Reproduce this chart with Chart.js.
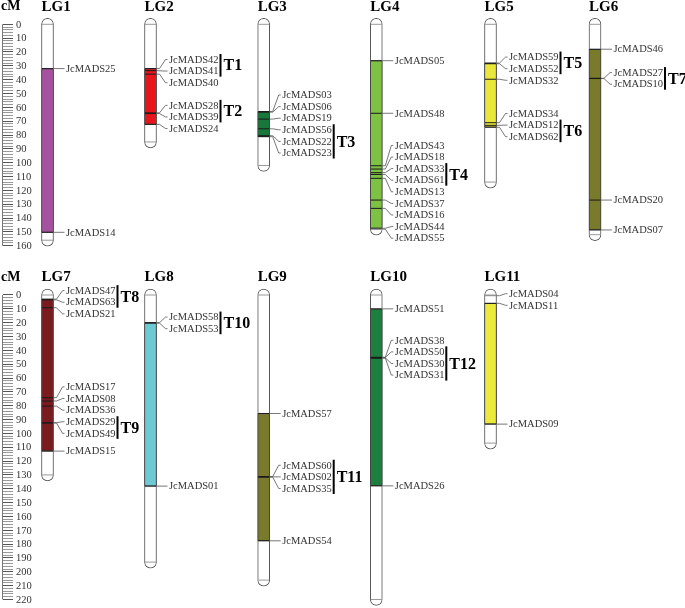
<!DOCTYPE html>
<html>
<head>
<meta charset="utf-8">
<script src="https://cdn.jsdelivr.net/npm/chart.js@4.4.1/dist/chart.umd.min.js"></script>
<style>
  html, body { margin: 0; padding: 0; background: #fff; }
  #wrap { position: relative; width: 685px; height: 608px; }
  canvas { position: absolute; left: 0; }
  #top { top: 0; }
  #bottom { top: 268px; }
</style>
</head>
<body>
<div id="wrap">
  <canvas id="top" width="685" height="268"></canvas>
  <canvas id="bottom" width="685" height="340"></canvas>
</div>
<script>
// linkage groups and their length in cM
const groups = ['LG1', 'LG2', 'LG3', 'LG4', 'LG5', 'LG6', 'LG7', 'LG8', 'LG9', 'LG10', 'LG11'];
const lengths = [156, 85, 102, 148, 114, 152, 130, 193, 206, 220, 107];

// coloured block on each group
const segStart = [32, 32, 63, 26.3, 28, 18, 3, 20, 85.6, 10, 6];
const segEnd = [150.3, 72.3, 81.2, 147.4, 74.4, 148.6, 112.8, 138.1, 177.6, 137.9, 93.3];

// genes on each group (cM)
const geneNames = [
    ['JcMADS25', 'JcMADS14'],
    ['JcMADS42', 'JcMADS41', 'JcMADS40', 'JcMADS28', 'JcMADS39', 'JcMADS24'],
    ['JcMADS03', 'JcMADS06', 'JcMADS19', 'JcMADS56', 'JcMADS22', 'JcMADS23'],
    ['JcMADS05', 'JcMADS48', 'JcMADS43', 'JcMADS18', 'JcMADS33', 'JcMADS61', 'JcMADS13', 'JcMADS37', 'JcMADS16', 'JcMADS44', 'JcMADS55'],
    ['JcMADS59', 'JcMADS52', 'JcMADS32', 'JcMADS34', 'JcMADS12', 'JcMADS62'],
    ['JcMADS46', 'JcMADS27', 'JcMADS10', 'JcMADS20', 'JcMADS07'],
    ['JcMADS47', 'JcMADS63', 'JcMADS21', 'JcMADS17', 'JcMADS08', 'JcMADS36', 'JcMADS29', 'JcMADS49', 'JcMADS15'],
    ['JcMADS58', 'JcMADS53', 'JcMADS01'],
    ['JcMADS57', 'JcMADS60', 'JcMADS02', 'JcMADS35', 'JcMADS54'],
    ['JcMADS51', 'JcMADS38', 'JcMADS50', 'JcMADS30', 'JcMADS31', 'JcMADS26'],
    ['JcMADS04', 'JcMADS11', 'JcMADS09']
];
const genePos = [
    [32, 150.3],
    [32, 33.5, 36, 64, 64.5, 72.3],
    [63, 63.5, 68.5, 75.5, 80.5, 81.2],
    [26.3, 64.3, 102.2, 104.6, 107.2, 108.5, 111.3, 127, 133, 147.4, 148],
    [28, 28.5, 39.7, 71.1, 73, 74.4],
    [18, 39, 39.2, 127, 148.6],
    [3, 3.5, 9.2, 74.2, 76.6, 80.3, 92.3, 92.5, 112.8],
    [20, 20.3, 138.1],
    [85.6, 131.2, 131.4, 131.6, 177.6],
    [10, 45, 45.2, 45.4, 45.6, 137.9],
    [0.5, 6, 93.3]
];

// tandem duplications
const tandemNames = ['T1', 'T2', 'T3', 'T4', 'T5', 'T6', 'T7', 'T8', 'T9', 'T10', 'T11', 'T12'];
const tandemGenes = [
    ['JcMADS42', 'JcMADS41'], ['JcMADS28', 'JcMADS39'], ['JcMADS56', 'JcMADS22', 'JcMADS23'],
    ['JcMADS33', 'JcMADS61'], ['JcMADS59', 'JcMADS52'], ['JcMADS12', 'JcMADS62'],
    ['JcMADS27', 'JcMADS10'], ['JcMADS47', 'JcMADS63'], ['JcMADS29', 'JcMADS49'],
    ['JcMADS58', 'JcMADS53'], ['JcMADS60', 'JcMADS02', 'JcMADS35'], ['JcMADS50', 'JcMADS30', 'JcMADS31']
];

// ruler ends for the two rows
const rulerMax = [160, 220];

// layout / style
const segColors = ['#a6519f', '#e8151c', '#18783b', '#7dc242', '#e9e83a', '#7a7a2c',
                   '#7a1b1f', '#6dc9d4', '#7a7a2c', '#1c7f3e', '#ebe93b'];
const colX = [47.5, 150.5, 263.7, 376.3, 490.5, 595];
const pxPerCM = 1.384;
const capCM = 6 / pxPerCM;
const serif = "'Liberation Serif', 'Times New Roman', serif";
const labelGap = 11.6;

function spreadLabels(targets) {
    let clusters = targets.map(t => ({ sum: t, n: 1 }));
    const start = c => c.sum / c.n - (c.n - 1) * labelGap / 2;
    let merged = true;
    while (merged) {
        merged = false;
        for (let i = 1; i < clusters.length; i++) {
            const a = clusters[i - 1], b = clusters[i];
            if (start(a) + a.n * labelGap > start(b)) {
                clusters.splice(i - 1, 2, { sum: a.sum + b.sum, n: a.n + b.n });
                merged = true;
                break;
            }
        }
    }
    const out = [];
    clusters.forEach(c => { for (let j = 0; j < c.n; j++) out.push(start(c) + j * labelGap); });
    return out;
}

const mapLabels = {
    id: 'mapLabels',
    afterDraw(chart, args, opts) {
        const { ctx, scales: { x, y } } = chart;
        const idx = opts.idx;
        const y0 = y.getPixelForValue(0);
        ctx.save();

        // cM header, ruler spine and ruler numbers
        ctx.fillStyle = '#000';
        ctx.font = 'bold 14px ' + serif;
        ctx.textBaseline = 'middle';
        ctx.textAlign = 'left';
        ctx.fillText('cM', 1, y0 - 17.6);
        ctx.strokeStyle = '#777';
        ctx.lineWidth = 1;
        ctx.beginPath();
        ctx.moveTo(2.5, y0);
        ctx.lineTo(2.5, y.getPixelForValue(opts.rMax));
        ctx.stroke();
        ctx.fillStyle = '#333';
        ctx.font = '10.5px ' + serif;
        y.ticks.forEach(t => {
            if (t.value % 10 === 0) ctx.fillText(String(t.value), 16, y.getPixelForValue(t.value) + 0.5);
        });

        const labelY = {};
        idx.forEach((g, k) => {
            const cx = x.getPixelForValue(colX[k]);
            ctx.fillStyle = '#000';
            ctx.font = 'bold 15px ' + serif;
            ctx.fillText(groups[g], cx - 6, y0 - 17.6);

            const order = genePos[g].map((p, i) => i).sort((a, b) => genePos[g][a] - genePos[g][b]);
            const targets = order.map(i => y.getPixelForValue(genePos[g][i]));
            const placed = spreadLabels(targets);
            ctx.font = '10.5px ' + serif;
            ctx.fillStyle = '#333';
            ctx.strokeStyle = '#555';
            ctx.lineWidth = 0.8;
            order.forEach((i, j) => {
                const my = targets[j], ly = placed[j];
                ctx.beginPath();
                ctx.moveTo(cx + 6, my);
                if (Math.abs(my - ly) < 0.5) {
                    ctx.lineTo(cx + 17, ly);
                } else {
                    ctx.lineTo(cx + 9, my);
                    ctx.lineTo(cx + 15, ly);
                    ctx.lineTo(cx + 17, ly);
                }
                ctx.stroke();
                ctx.fillText(geneNames[g][i], cx + 18.5, ly + 0.5);
                labelY[geneNames[g][i]] = { y: ly, cx: cx };
            });
        });

        // tandem brackets
        tandemGenes.forEach((genes, t) => {
            const hits = genes.map(n => labelY[n]).filter(Boolean);
            if (!hits.length) return;
            const ys = hits.map(h => h.y);
            const top = Math.min(...ys) - 5.5, bot = Math.max(...ys) + 5.5;
            const bx = hits[0].cx + 70;
            ctx.fillStyle = '#000';
            ctx.fillRect(bx - 1, top, 2, bot - top);
            ctx.font = 'bold 16px ' + serif;
            ctx.fillText(tandemNames[t], bx + 3, (top + bot) / 2 + 1);
        });
        ctx.restore();
    }
};

function drawPanel(canvasId, idx, rMax, zeroPx) {
    const canvas = document.getElementById(canvasId);

    const markers = [];
    const markerColors = [];
    idx.forEach((g, k) => {
        genePos[g].forEach(p => {
            markers.push({ x: colX[k], y: p });
            markerColors.push(p >= segStart[g] && p <= segEnd[g] ? '#1a1a1a' : '#888');
        });
    });

    const chart = new Chart(canvas, {
        type: 'bar',
        data: {
            datasets: [{
                label: 'chromosome',
                data: idx.map((g, k) => ({ x: colX[k], y: [-capCM, lengths[g] + capCM] })),
                backgroundColor: '#fff',
                borderColor: '#555',
                borderWidth: 1,
                borderRadius: 6,
                borderSkipped: false,
                barThickness: 12,
                grouped: false,
                clip: false,
                order: 4
            }, {
                label: 'block',
                data: idx.map((g, k) => ({ x: colX[k], y: [segStart[g], segEnd[g]] })),
                backgroundColor: idx.map(g => segColors[g]),
                borderColor: '#444',
                borderWidth: 1,
                borderSkipped: false,
                barThickness: 12,
                grouped: false,
                clip: false,
                order: 3
            }, {
                type: 'scatter',
                label: 'ends',
                data: idx.flatMap((g, k) => [{ x: colX[k], y: 0 }, { x: colX[k], y: lengths[g] }]),
                pointStyle: 'line',
                pointRadius: 5.5,
                pointBorderColor: '#999',
                borderColor: '#999',
                pointBorderWidth: 1,
                clip: false,
                order: 2
            }, {
                type: 'scatter',
                label: 'genes',
                data: markers,
                pointStyle: 'line',
                pointRadius: 5.5,
                pointBorderColor: markerColors,
                borderColor: markerColors,
                pointBorderWidth: 1,
                clip: false,
                order: 1
            }]
        },
        options: {
            responsive: false,
            animation: false,
            devicePixelRatio: 1,
            events: [],
            layout: { padding: 0 },
            scales: {
                x: { type: 'linear', offset: false, min: 0, max: 685, display: false },
                y: {
                    type: 'linear',
                    reverse: true,
                    min: -zeroPx / pxPerCM,
                    max: (canvas.height - zeroPx) / pxPerCM,
                    position: 'left',
                    afterBuildTicks: s => { s.ticks = s.ticks.filter(t => t.value >= 0 && t.value <= rMax); },
                    afterFit: s => { s.width = 13; s.paddingTop = 0; s.paddingBottom = 0; },
                    border: { display: false },
                    grid: {
                        drawOnChartArea: false,
                        tickLength: 10,
                        tickColor: c => (c.tick && c.tick.value % 10 === 0) ? '#555' : '#999'
                    },
                    ticks: {
                        stepSize: 2,
                        includeBounds: false,
                        autoSkip: false,
                        display: false
                    }
                }
            },
            plugins: {
                legend: { display: false },
                tooltip: { enabled: false },
                mapLabels: { idx: idx, rMax: rMax }
            }
        },
        plugins: [mapLabels]
    });

    // line the scales up with the page: 0 cM at zeroPx, x values in page pixels
    for (let pass = 0; pass < 3; pass++) {
        const ca = chart.chartArea;
        const ys = chart.options.scales.y, xs = chart.options.scales.x;
        ys.min = -(zeroPx - ca.top) / pxPerCM;
        ys.max = ys.min + (ca.bottom - ca.top) / pxPerCM;
        xs.min = ca.left;
        xs.max = ca.right;
        chart.update();
    }
}

drawPanel('top', [0, 1, 2, 3, 4, 5], rulerMax[0], 24.3);
drawPanel('bottom', [6, 7, 8, 9, 10], rulerMax[1], 27);
</script>
</body>
</html>
